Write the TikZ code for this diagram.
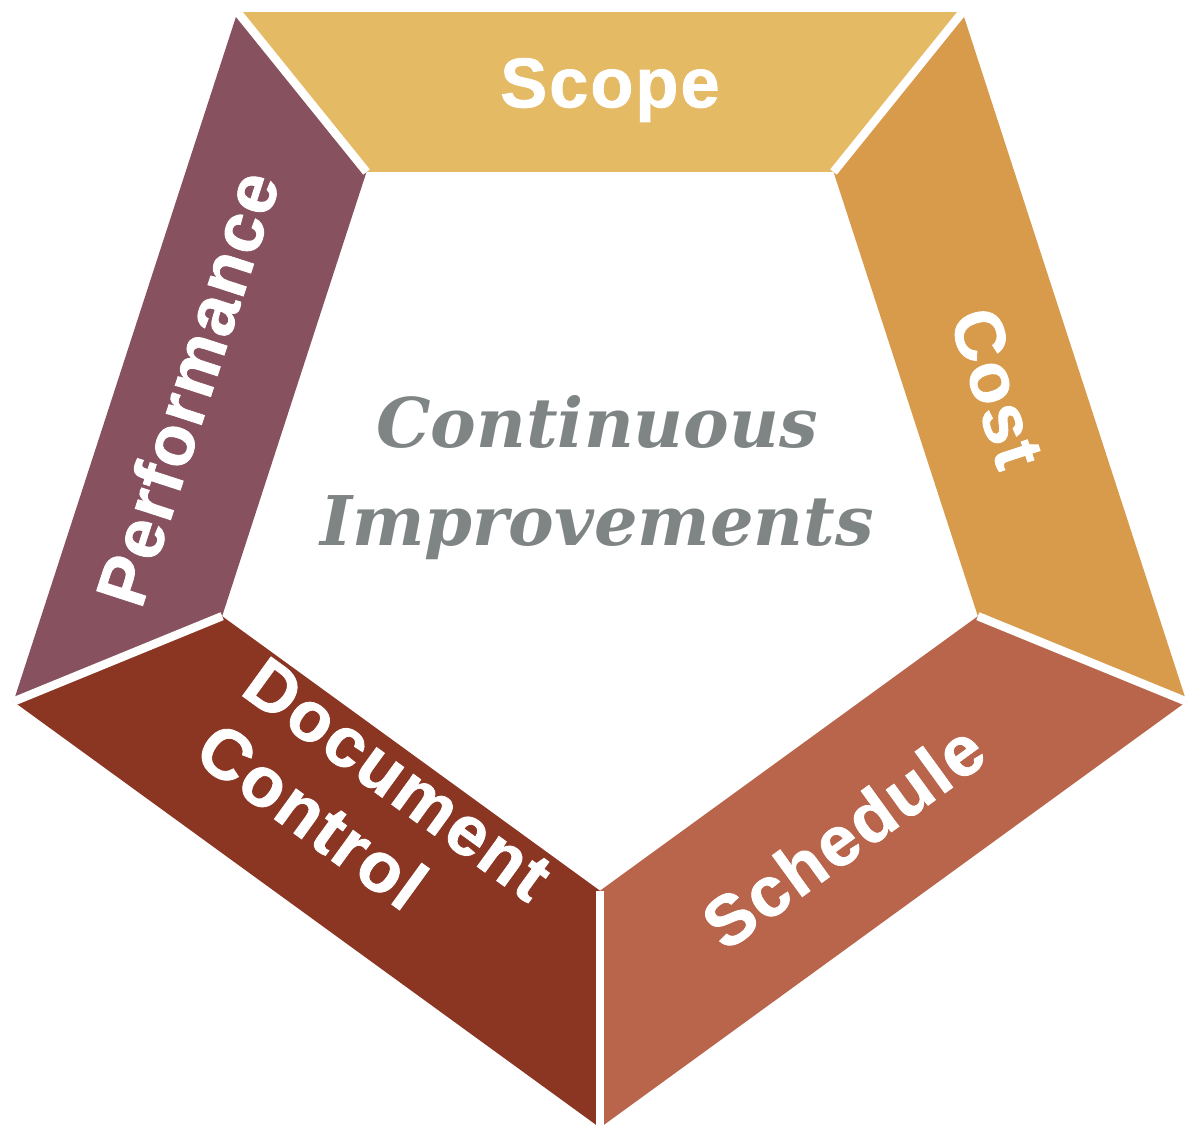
\documentclass[tikz,border=0pt]{standalone}
\usepackage{fontspec}
\newfontfamily\bandfont[LetterSpace=3,FakeBold=1.2]{Liberation Sans}
\newfontfamily\hubfont{DejaVu Serif}
\definecolor{scopeCol}{HTML}{E4BA65}
\definecolor{costCol}{HTML}{D89A4B}
\definecolor{scheduleCol}{HTML}{B8654C}
\definecolor{documentCol}{HTML}{8B3523}
\definecolor{performanceCol}{HTML}{88515F}
\definecolor{hubGray}{HTML}{7F8584}
\begin{document}
\begin{tikzpicture}
[bandLabel/.style={text=white,font=\bandfont\bfseries\fontsize{20}{23}\selectfont},%
  gapLine/.style={white,line width=2.4pt},
  hubLabel/.style={text=hubGray,align=center,font=\hubfont\bfseries\itshape\fontsize{19.5}{27.9}\selectfont}]
\useasboundingbox (0,0) rectangle (12,-11.4);
%% corners of the two pentagons
\foreach \i/\a in {1/54, 2/126, 3/198, 4/270, 5/342}
{
  \coordinate (out\i) at ([shift={(6,-5.11)}]\a:6.167);
  \coordinate (in\i) at ([shift={(6,-4.934)}]\a:3.973);
}
%% bands
\foreach \p/\q/\col in {2/1/scopeCol, 1/5/costCol, 5/4/scheduleCol,
  4/3/documentCol, 3/2/performanceCol}
{
  \fill[\col] (out\p) -- (out\q) -- (in\q) -- (in\p) -- cycle;
}
%% white gaps between bands
\foreach \i in {1,...,5}
{
  \draw[gapLine] (out\i) -- (in\i);
}
%% labels
\node (scope) at (6.10,-0.90) [bandLabel] {Scope};
\node (cost) at (9.97,-3.88) [bandLabel,rotate=-72] {Cost};
\node (schedule) at (8.43,-8.36) [bandLabel,rotate=36] {Schedule};
\node (document) at (3.74,-8.12) [bandLabel,rotate=-36,align=left] {Document\\Control};
\node (performance) at (1.87,-3.88) [bandLabel,rotate=72] {Performance};
\node (hub) at (5.97,-4.78) [hubLabel] {Continuous\\Improvements};
\end{tikzpicture}
\end{document}
